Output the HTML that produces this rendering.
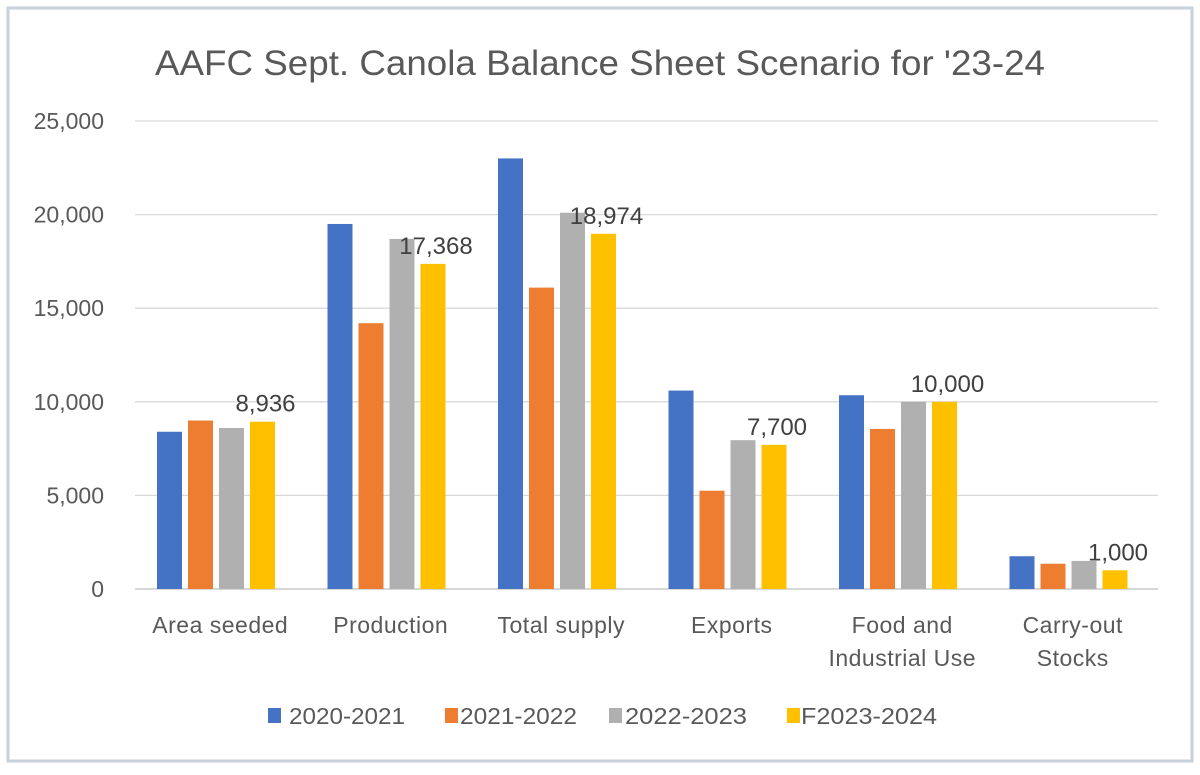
<!DOCTYPE html>
<html><head><meta charset="utf-8"><style>
body{margin:0;background:#fff;}
svg text{font-family:"Liberation Sans",sans-serif;}
</style></head><body>
<svg id="c" width="1200" height="770" xmlns="http://www.w3.org/2000/svg">
<rect x="8" y="8" width="1184" height="753" fill="#fff" stroke="#c8d0da" stroke-width="3"/>
<text x="155" y="75" textLength="890" lengthAdjust="spacingAndGlyphs" font-size="35" fill="#595959">AAFC Sept. Canola Balance Sheet Scenario for '23-24</text>
<g id="grid"></g><g id="bars"></g><g id="labels"></g><g id="legend"></g>
</svg>
<script>
const categories=[["Area seeded"],["Production"],["Total supply"],["Exports"],["Food and","Industrial Use"],["Carry-out","Stocks"]];
const seriesNames=["2020-2021","2021-2022","2022-2023","F2023-2024"];
const s2020=[8400,19500,23000,10600,10350,1750];
const s2021=[9000,14200,16100,5250,8550,1350];
const s2022=[8600,18700,20100,7950,10000,1500];
const s2023=[8936,17368,18974,7700,10000,1000];
const yTicks=[0,5000,10000,15000,20000,25000];
const yTickLabels=["0","5,000","10,000","15,000","20,000","25,000"];
const dataLabels=["8,936","17,368","18,974","7,700","10,000","1,000"];
const colors=["#4472c4","#ed7d31","#b0b0b0","#ffc000"];
const series=[s2020,s2021,s2022,s2023];
const NS="http://www.w3.org/2000/svg";
const x0=135,x1=1158,yb=589,yt=121,ymax=25000;
const y=v=>yb-(v/ymax)*(yb-yt);
const gw=(x1-x0)/categories.length;
const bw=25,pitch=31,off=22;
function mk(t,a,p){const e=document.createElementNS(NS,t);for(const k in a)e.setAttribute(k,a[k]);p.appendChild(e);return e;}
const grid=document.getElementById('grid'),bars=document.getElementById('bars'),labels=document.getElementById('labels'),legend=document.getElementById('legend');
yTicks.forEach((v,i)=>{
 const l=mk('line',{x1:x0,x2:x1,y1:y(v),y2:y(v),stroke:i==0?'#bfbfbf':'#d9d9d9','stroke-width':1.3},grid);
 
 
 const t=mk('text',{x:104,y:y(v)+8,'text-anchor':'end','font-size':23,fill:'#595959'},grid);
 t.textContent=yTickLabels[i];
 
 
});
categories.forEach((c,ci)=>{
 const gx=x0+ci*gw;
 series.forEach((s,si)=>{
  const bx=gx+off+si*pitch;
  const r=mk('rect',{x:bx,y:y(s[ci]),width:bw,height:yb-y(s[ci]),fill:colors[si]},bars);
  
  
  if(si==3){
   const t=mk('text',{x:bx+bw/2+3,y:y(s[ci])-10,'text-anchor':'middle','font-size':24,fill:'#404040'},labels);
   t.textContent=dataLabels[ci];
   
   
  }
 });
 c.forEach((line,li)=>{
  const t=mk('text',{x:gx+gw/2,y:633+li*33,'text-anchor':'middle','font-size':23,'letter-spacing':0.5,fill:'#595959'},labels);
  t.textContent=line;
  
  
 });
});
const lx=[268,445,609,787];
const tx=[289,460,625,801];
const tl=[116,117,122,136];
seriesNames.forEach((n,i)=>{
 const g=mk('g',{},legend);
 
 
 mk('rect',{x:lx[i],y:708,width:13,height:15,fill:colors[i]},g);
 const t=mk('text',{x:tx[i],y:724,'font-size':23,fill:'#595959',textLength:tl[i],lengthAdjust:'spacingAndGlyphs'},g);
 t.textContent=n;
});
</script>
</body></html>
